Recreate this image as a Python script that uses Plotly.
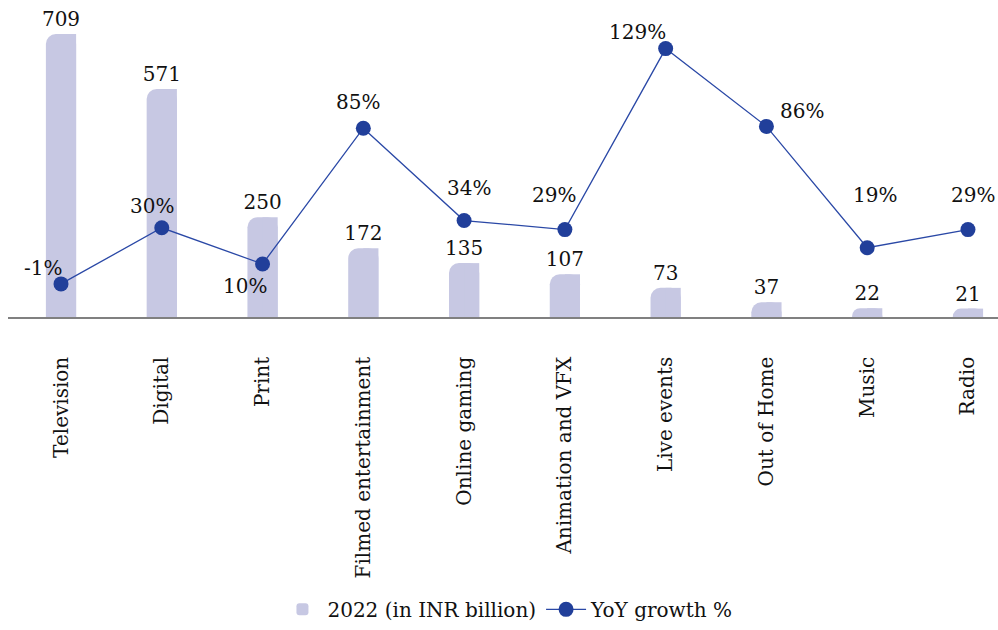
import plotly.graph_objects as go

# Segment data
segments = ["Television", "Digital", "Print", "Filmed entertainment", "Online gaming",
            "Animation and VFX", "Live events", "Out of Home", "Music", "Radio"]
revenue_2022 = [709, 571, 250, 172, 135, 107, 73, 37, 22, 21]      # INR billion
yoy_growth = [-1, 30, 10, 85, 34, 29, 129, 86, 19, 29]              # percent

# Label offsets (px) for the growth labels: (x shift, y shift)
growth_label_shift = [(-18, 16), (-10, 22), (-18, -22), (-5, 26), (5, 33),
                      (-11, 35), (-28, 17), (36, 15), (8, 53), (5, 35)]

FONT = "DejaVu Serif"
BAR_COLOR = "#c7c8e3"
LINE_COLOR = "#2a48a6"
MARKER_COLOR = "#213f9a"
TEXT_COLOR = "#111111"

fig = go.Figure()

# Main bar: rounded top corners
fig.add_trace(go.Bar(
    x=segments, y=revenue_2022,
    width=0.3, offset=-0.15,
    marker=dict(color=BAR_COLOR, line=dict(width=0), cornerradius=10),
    text=[str(v) for v in revenue_2022],
    textposition="outside",
    constraintext="none",
    textfont=dict(family=FONT, size=20, color=TEXT_COLOR),
    cliponaxis=False,
    name="2022 (in INR billion)",
    showlegend=True,
    hoverinfo="skip",
))
# Right half overlay squares off the top-right corner
fig.add_trace(go.Bar(
    x=segments, y=revenue_2022,
    width=0.15, offset=0,
    marker=dict(color=BAR_COLOR, line=dict(width=0)),
    showlegend=False,
    hoverinfo="skip",
))

fig.add_trace(go.Scatter(
    x=segments, y=yoy_growth,
    yaxis="y2",
    mode="lines+markers",
    line=dict(color=LINE_COLOR, width=1.3),
    marker=dict(color=MARKER_COLOR, size=15),
    name="YoY growth %",
    cliponaxis=False,
    hoverinfo="skip",
))

annotations = []
for seg, g, (dx, dy) in zip(segments, yoy_growth, growth_label_shift):
    annotations.append(dict(
        x=seg, y=g, xref="x", yref="y2",
        text=f"{g}%", showarrow=False,
        xshift=dx, yshift=dy,
        font=dict(family=FONT, size=20, color=TEXT_COLOR),
    ))

fig.update_layout(
    width=998, height=630,
    margin=dict(l=8, r=0, t=20, b=313),
    paper_bgcolor="white", plot_bgcolor="white",
    barmode="overlay",
    font=dict(family=FONT, size=20, color=TEXT_COLOR),
    xaxis=dict(
        type="category",
        range=[-0.526, 9.298],
        showline=True, linecolor="#808080", linewidth=1.5,
        showgrid=False, zeroline=False,
        ticks="", tickangle=-90,
        ticklabelstandoff=30,
        tickfont=dict(family=FONT, size=20, color=TEXT_COLOR),
    ),
    yaxis=dict(range=[0, 744], visible=False, showgrid=False, zeroline=False),
    yaxis2=dict(range=[-19.3, 144.8], overlaying="y", visible=False,
                showgrid=False, zeroline=False),
    legend=dict(
        orientation="h",
        x=0.505, xanchor="center",
        y=-1.05, yanchor="bottom",
        font=dict(family=FONT, size=20, color=TEXT_COLOR),
        itemwidth=40,
        traceorder="normal",
    ),
    annotations=annotations,
    showlegend=True,
)

fig.write_html("out.html")
